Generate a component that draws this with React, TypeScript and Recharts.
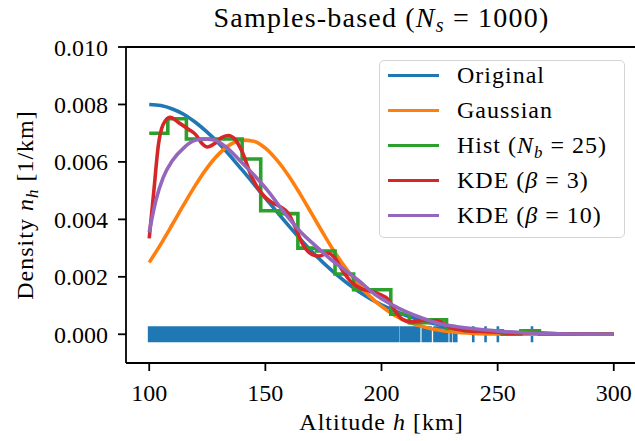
import React from 'react';
import {
    ComposedChart,
    Line,
    XAxis,
    YAxis,
    Legend,
    ReferenceLine,
} from 'recharts';

const FONT = '"Liberation Serif", "Times New Roman", Times, serif';
const BLUE = '#1f77b4';
const ORANGE = '#ff7f0e';
const GREEN = '#2ca02c';
const RED = '#d62728';
const PURPLE = '#9467bd';

// original density
const originalH = [100, 105, 110, 115, 120, 130, 140, 150, 160, 170, 180, 190, 200, 210, 220, 230, 240, 250, 260, 270, 280, 290, 300];
const originalV = [0.0080, 0.00796, 0.00784, 0.00765, 0.00737, 0.00664, 0.00572, 0.00474, 0.00378, 0.00288, 0.00212, 0.0015, 0.00102, 0.00067, 0.00042, 0.00026, 0.00015, 0.00008, 0.00004, 0.00002, 0.00001, 0.000005, 0.000002];

// gaussian fit
const gaussH = [100, 105, 110, 115, 120, 125, 130, 135, 140, 145, 150, 155, 160, 165, 170, 175, 180, 185, 190, 195, 200, 205, 210, 215, 220, 230, 240, 250, 260, 280, 300];
const gaussV = [0.0025, 0.00314, 0.00383, 0.00453, 0.0052, 0.0058, 0.00628, 0.00661, 0.00676, 0.00672, 0.00648, 0.00606, 0.00552, 0.00488, 0.00419, 0.0035, 0.00284, 0.00226, 0.00175, 0.00132, 0.00097, 0.00069, 0.00048, 0.00033, 0.00022, 0.00009, 0.00003, 0.00001, 0.000003, 0, 0];

// histogram, 25 bins
const histEdges = [100, 108, 116, 124, 132, 140, 148, 156, 164, 172, 180, 188, 196, 204, 212, 220, 228, 236, 244, 252, 260, 268, 276, 284, 292, 300];
const histDensity = [0.007, 0.0075, 0.0068, 0.0068, 0.0068, 0.0061, 0.0043, 0.0042, 0.003, 0.0029, 0.0021, 0.00155, 0.00155, 0.0007, 0.0004, 0.0005, 0.0002, 0.000125, 0.000125, 0, 0.000125, 0, 0, 0, 0];

// KDE beta = 3
const kde3H = [100, 102, 104, 106, 109, 113, 117, 120, 123, 125, 128, 131, 134, 137, 140, 144, 148, 152, 156, 160, 163, 166, 169, 173, 177, 180, 183, 187, 191, 195, 199, 203, 206, 209, 213, 218, 224, 229, 235, 240, 245, 250, 255, 260, 265, 270, 280, 290, 300];
const kde3V = [0.00334, 0.005, 0.00662, 0.0073, 0.00755, 0.00735, 0.00713, 0.00695, 0.00662, 0.00652, 0.00663, 0.00684, 0.00692, 0.00678, 0.00635, 0.0055, 0.00495, 0.00463, 0.00446, 0.0042, 0.0037, 0.00315, 0.00284, 0.00272, 0.00282, 0.00265, 0.00225, 0.00182, 0.0016, 0.0015, 0.0014, 0.0012, 0.0008, 0.00052, 0.00043, 0.00048, 0.00047, 0.00026, 0.00014, 0.0001, 0.00009, 0.00007, 0.00004, 0.00005, 0.00006, 0.00004, 0.00001, 0.000003, 0];

// KDE beta = 10
const kde10H = [100, 103, 106, 110, 115, 119, 123, 128, 133, 139, 145, 151, 158, 165, 172, 178, 184, 190, 197, 204, 211, 218, 225, 232, 240, 250, 260, 270, 280, 290, 300];
const kde10V = [0.00355, 0.0047, 0.00545, 0.00605, 0.0065, 0.00673, 0.0068, 0.00676, 0.00652, 0.00605, 0.00555, 0.005, 0.00425, 0.00358, 0.00305, 0.00262, 0.00225, 0.00188, 0.0014, 0.00105, 0.00077, 0.00055, 0.00037, 0.00027, 0.00019, 0.00011, 0.00006, 0.00003, 0.00001, 0.000005, 0.000002];

// samples rug: dense band + isolated samples
const rugBand = [99.4, 207.8];
const rugTicks = [208.5, 209.6, 210.7, 211.8, 212.9, 214, 215.1, 216.2, 217.8, 218.9, 220, 221.1, 222.8, 223.9, 225, 226.1, 227.2, 228.3, 229.8, 231.2, 232.2, 239.5, 244.8, 250.1, 264.8];
const RUG_HALF = 0.00028; // marker half height in data units

const xTicks = [100, 150, 200, 250, 300];
const yTicks = [0, 0.002, 0.004, 0.006, 0.008, 0.01];

const zip = (hs: number[], vs: number[]) => hs.map((h, i) => ({ h, v: vs[i] }));

const originalData = zip(originalH, originalV);
const gaussData = zip(gaussH, gaussV);
const kde3Data = zip(kde3H, kde3V);
const kde10Data = zip(kde10H, kde10V);
const histData = [
    ...histDensity.map((v, i) => ({ h: histEdges[i], v })),
    { h: histEdges[histEdges.length - 1], v: histDensity[histDensity.length - 1] },
];
const rugBandData = rugBand.map((h) => ({ h, v: 0 }));
// each sample drawn as a short vertical segment, broken by nulls
const rugTickData = rugTicks.flatMap((h) => [
    { h, v: -RUG_HALF },
    { h, v: RUG_HALF },
    { h, v: null },
]);

const LW = 3.6;
const tickStyle = { fontFamily: FONT, fontSize: 24, fill: '#000' };
const axisStroke = { stroke: '#000', strokeWidth: 1.8 };

const Sub: React.FC<{ children: React.ReactNode }> = ({ children }) => (
    <span style={{ fontSize: '0.7em', position: 'relative', top: '0.3em', fontStyle: 'italic' }}>{children}</span>
);

const legendItems = [
    { color: BLUE, label: <>Original</> },
    { color: ORANGE, label: <>Gaussian</> },
    { color: GREEN, label: <>Hist (<i>N</i><Sub>b</Sub> = 25)</> },
    { color: RED, label: <>KDE (<i>β</i> = 3)</> },
    { color: PURPLE, label: <>KDE (<i>β</i> = 10)</> },
];

const LegendBox = () => (
    <div
        style={{
            width: 246,
            height: 178,
            boxSizing: 'border-box',
            border: '1.8px solid #d5d5d5',
            borderRadius: 5,
            background: 'rgba(255,255,255,0.8)',
            fontFamily: FONT,
            fontSize: 24,
            letterSpacing: 1,
            color: '#000',
        }}
    >
        <div style={{ marginTop: -3 }}>
            {legendItems.map((it, i) => (
                <div key={i} style={{ height: 35, display: 'flex', alignItems: 'center' }}>
                    <div style={{ width: 51, height: 3.6, background: it.color, marginLeft: 8, marginRight: 18 }} />
                    <span style={{ whiteSpace: 'nowrap' }}>{it.label}</span>
                </div>
            ))}
        </div>
    </div>
);

const XLabel = (props: any) => {
    const { viewBox } = props;
    const cx = viewBox.x + viewBox.width / 2;
    return (
        <text x={cx} y={430} textAnchor="middle" fontFamily={FONT} fontSize={24} letterSpacing={1} fill="#000">
            Altitude <tspan fontStyle="italic">h</tspan> [km]
        </text>
    );
};

const YLabel = (props: any) => {
    const { viewBox } = props;
    const cy = viewBox.y + viewBox.height / 2;
    return (
        <text
            x={33}
            y={cy}
            transform={`rotate(-90 33 ${cy})`}
            textAnchor="middle"
            fontFamily={FONT}
            fontSize={24}
            letterSpacing={1}
            fill="#000"
        >
            Density <tspan fontStyle="italic">n</tspan>
            <tspan fontStyle="italic" fontSize={17} dy={5}>h</tspan>
            <tspan dy={-5}> [1/km]</tspan>
        </text>
    );
};

export default function App() {
    return (
        <div style={{ position: 'relative', width: 635, height: 441, overflow: 'hidden', background: '#fff' }}>
            <style>{'body{margin:0}'}</style>
            <svg width={635} height={40} style={{ position: 'absolute', left: 0, top: 0 }}>
                <text x={381.5} y={27} textAnchor="middle" fontFamily={FONT} fontSize={28} letterSpacing={1.2} fill="#000">
                    Samples-based (<tspan fontStyle="italic">N</tspan>
                    <tspan fontStyle="italic" fontSize={20} dy={5}>s</tspan>
                    <tspan dy={-5}> = 1000)</tspan>
                </text>
            </svg>
            <ComposedChart
                width={645}
                height={441}
                margin={{ top: 47, right: 8, bottom: 0, left: 0 }}
                style={{ position: 'absolute', left: 0, top: 0 }}
            >
                <XAxis
                    type="number"
                    dataKey="h"
                    domain={[90, 310]}
                    allowDataOverflow
                    ticks={xTicks}
                    tick={tickStyle}
                    tickSize={8}
                    tickMargin={13}
                    axisLine={axisStroke}
                    tickLine={axisStroke}
                    height={78}
                    label={<XLabel />}
                />
                <YAxis
                    type="number"
                    dataKey="v"
                    domain={[-0.001, 0.01]}
                    allowDataOverflow
                    ticks={yTicks}
                    tickFormatter={(v: number) => v.toFixed(3)}
                    tick={tickStyle}
                    tickSize={8}
                    tickMargin={10}
                    axisLine={axisStroke}
                    tickLine={axisStroke}
                    width={126}
                    label={<YLabel />}
                />
                <ReferenceLine y={0.01} stroke="#000" strokeWidth={1.8} />
                <ReferenceLine x={310} stroke="#000" strokeWidth={1.8} />
                <Line data={rugBandData} dataKey="v" type="linear" stroke={BLUE} strokeWidth={16} strokeLinecap="butt" dot={false} legendType="none" isAnimationActive={false} />
                <Line data={rugTickData} dataKey="v" type="linear" connectNulls={false} stroke={BLUE} strokeWidth={2.6} strokeLinecap="butt" dot={false} legendType="none" isAnimationActive={false} />
                <Line data={originalData} dataKey="v" name="Original" type="monotone" stroke={BLUE} strokeWidth={LW} dot={false} isAnimationActive={false} />
                <Line data={gaussData} dataKey="v" name="Gaussian" type="monotone" stroke={ORANGE} strokeWidth={LW} dot={false} isAnimationActive={false} />
                <Line data={histData} dataKey="v" name="Hist" type="stepAfter" stroke={GREEN} strokeWidth={LW} dot={false} isAnimationActive={false} />
                <Line data={kde3Data} dataKey="v" name="KDE3" type="monotone" stroke={RED} strokeWidth={LW} dot={false} isAnimationActive={false} />
                <Line data={kde10Data} dataKey="v" name="KDE10" type="monotone" stroke={PURPLE} strokeWidth={LW} dot={false} isAnimationActive={false} />
                <Legend
                    layout="vertical"
                    align="center"
                    verticalAlign="middle"
                    content={<LegendBox />}
                    wrapperStyle={{ position: 'absolute', left: 379, top: 60, width: 246, height: 178 }}
                />
            </ComposedChart>
        </div>
    );
}
